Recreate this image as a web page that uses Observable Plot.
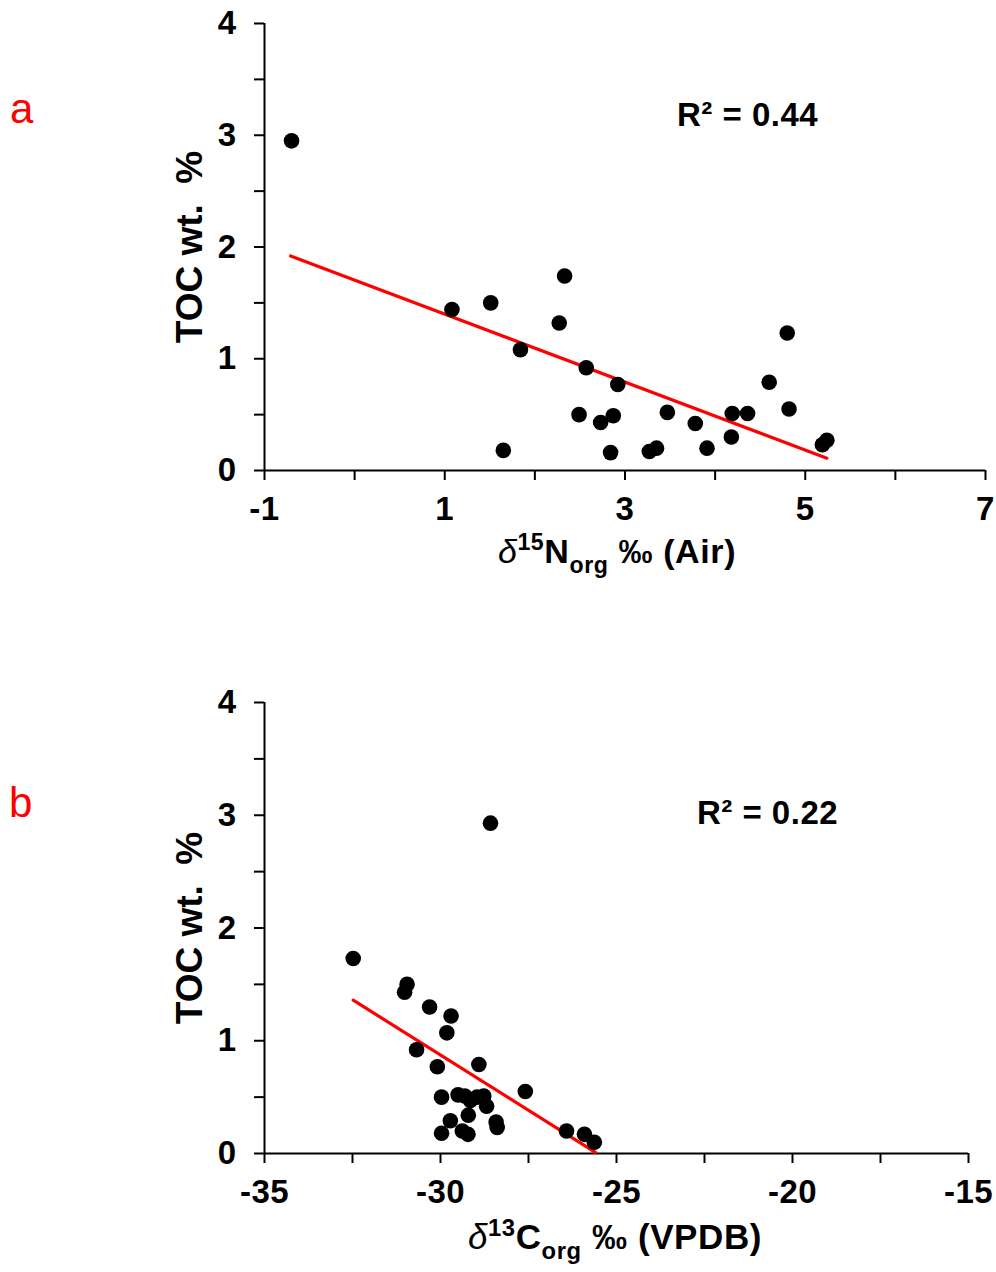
<!DOCTYPE html>
<html>
<head>
<meta charset="utf-8">
<script src="https://cdn.jsdelivr.net/npm/d3@7"></script>
<script src="https://cdn.jsdelivr.net/npm/@observablehq/plot@0.6"></script>
<style>
  html, body { margin: 0; padding: 0; background: white; }
  #wrap { position: relative; width: 996px; height: 1272px; background: white; overflow: hidden; }
  #wrap > svg, #wrap > figure { position: absolute; left: 0; margin: 0; }
  g[aria-label="x-axis tick"] path, g[aria-label="y-axis tick"] path { stroke-width: 2px; stroke: black; stroke-opacity: 1; }
  #overlay { top: 0; pointer-events: none; }
</style>
</head>
<body>
<div id="wrap"></div>
<script>
// ---------- Panel a : TOC vs δ15N ----------
const n15 = [-0.70, 1.08, 1.51, 1.65, 1.84, 2.27, 2.33, 2.49, 2.57, 2.73, 2.84, 2.87, 2.92,
             3.27, 3.35, 3.47, 3.78, 3.91, 4.18, 4.19, 4.36, 4.60, 4.80, 4.82, 5.19, 5.24];
const tocA = [2.95, 1.44, 1.50, 0.18, 1.08, 1.32, 1.74, 0.50, 0.92, 0.43, 0.16, 0.49, 0.77,
              0.17, 0.20, 0.52, 0.42, 0.20, 0.30, 0.51, 0.51, 0.79, 1.23, 0.55, 0.23, 0.27];
const trendAx = [-0.71, 5.24];
const trendAy = [1.92, 0.11];
const r2A = "R² = 0.44";
const xTicksA = [-1, 0, 1, 2, 3, 4, 5, 6, 7];
const xLabelsA = [-1, 1, 3, 5, 7];

// ---------- Panel b : TOC vs δ13C ----------
const c13 = [-32.48, -30.95, -31.02, -30.31, -29.70, -29.82, -30.68, -30.09, -28.91, -27.59,
             -29.97, -29.50, -29.31, -29.15, -28.96, -28.77, -28.69, -29.21, -29.72, -28.42,
             -28.39, -29.97, -29.38, -29.22, -26.42, -25.91, -25.63, -28.58];
const tocB = [1.73, 1.50, 1.43, 1.30, 1.22, 1.07, 0.92, 0.77, 0.79, 0.55,
              0.50, 0.52, 0.51, 0.47, 0.50, 0.51, 0.42, 0.34, 0.29, 0.28,
              0.23, 0.18, 0.20, 0.17, 0.20, 0.17, 0.10, 2.93];
const trendBx = [-32.48, -25.60];
const trendBy = [1.36, 0.01];
const r2B = "R² = 0.22";
const xTicksB = [-35, -32.5, -30, -27.5, -25, -22.5, -20, -17.5, -15];
const xLabelsB = [-35, -30, -25, -20, -15];

const yTicks = [0, 0.5, 1, 1.5, 2, 2.5, 3, 3.5, 4];
const yLabels = [0, 1, 2, 3, 4];

function panel(o) {
  const pts = o.xs.map((x, i) => ({x, y: o.ys[i]}));
  const trend = o.tx.map((x, i) => ({x, y: o.ty[i]}));
  return Plot.plot({
    width: 996,
    height: o.height,
    marginLeft: 264,
    marginRight: o.marginRight,
    marginTop: o.marginTop,
    marginBottom: o.marginBottom,
    style: {fontFamily: "'Liberation Sans', Arial, sans-serif", fontSize: "33px", fontWeight: "bold", color: "black", background: "transparent", overflow: "visible", letterSpacing: "0.5px"},
    x: {domain: o.xDomain},
    y: {domain: [0, 4]},
    marks: [
      Plot.axisX({ticks: o.xTicks, tickSize: 10, tickPadding: 16, tickFormat: d => o.xLabels.includes(d) ? String(d) : "", label: null}),
      Plot.axisY({ticks: yTicks, tickSize: 10, tickPadding: 18, tickFormat: d => yLabels.includes(d) ? String(d) : "", label: null}),
      Plot.ruleY([0], {stroke: "black", strokeWidth: 2}),
      Plot.ruleX([o.xDomain[0]], {stroke: "black", strokeWidth: 2}),
      Plot.line(trend, {x: "x", y: "y", stroke: "#ff0000", strokeWidth: 3.2}),
      Plot.dot(pts, {x: "x", y: "y", r: 7.8, fill: "black", stroke: "none"}),
      Plot.text([{x: o.r2x, y: o.r2y, t: o.r2}], {x: "x", y: "y", text: "t", fontSize: 33, fontWeight: "bold", fill: "black"})
    ]
  });
}

const wrap = document.getElementById("wrap");

const pa = panel({xs: n15, ys: tocA, tx: trendAx, ty: trendAy, xDomain: [-1, 7], xTicks: xTicksA, xLabels: xLabelsA,
  r2: r2A, r2x: 4.36, r2y: 3.18, height: 600, marginRight: 11, marginTop: 23, marginBottom: 130});
pa.style.top = "0px";
wrap.appendChild(pa);

const pb = panel({xs: c13, ys: tocB, tx: trendBx, ty: trendBy, xDomain: [-35, -15], xTicks: xTicksB, xLabels: xLabelsB,
  r2: r2B, r2x: -20.71, r2y: 3.02, height: 632, marginRight: 28, marginTop: 62, marginBottom: 119});
pb.style.top = "640px";
wrap.appendChild(pb);

// ---------- overlay: panel letters & axis titles ----------
const ov = d3.select(wrap).append("svg").attr("id", "overlay").attr("width", 996).attr("height", 1272)
  .style("font-family", "'Liberation Sans', Arial, sans-serif");

ov.append("text").attr("x", 10).attr("y", 123).attr("fill", "#ff0000").attr("font-size", 42).text("a");
ov.append("text").attr("x", 9).attr("y", 817).attr("fill", "#ff0000").attr("font-size", 42).text("b");

function yTitle(cy) {
  ov.append("text").attr("transform", `translate(202,${cy}) rotate(-90)`)
    .attr("text-anchor", "middle").attr("font-size", 37).attr("font-weight", "bold").attr("fill", "black")
    .attr("xml:space", "preserve").style("white-space", "pre")
    .text("TOC wt.  %");
}
yTitle(247);
yTitle(928);

function xTitle(cx, by, iso, el, rest, size) {
  const t = ov.append("text").attr("x", cx).attr("y", by).attr("text-anchor", "middle")
    .attr("font-size", size).attr("font-weight", "bold").attr("fill", "black").style("letter-spacing", "0.6px");
  t.append("tspan").attr("font-style", "italic").attr("font-weight", "normal").text("δ");
  t.append("tspan").attr("font-size", size * 0.68).attr("dy", -size * 0.38).text(iso);
  t.append("tspan").attr("dy", size * 0.38).text(el);
  t.append("tspan").attr("font-size", size * 0.68).attr("dy", size * 0.28).text("org");
  t.append("tspan").attr("dy", -size * 0.28).text(" ‰ (" + rest + ")");
}
xTitle(617, 563, "15", "N", "Air", 34);
xTitle(615, 1249, "13", "C", "VPDB", 35);
</script>
</body>
</html>
